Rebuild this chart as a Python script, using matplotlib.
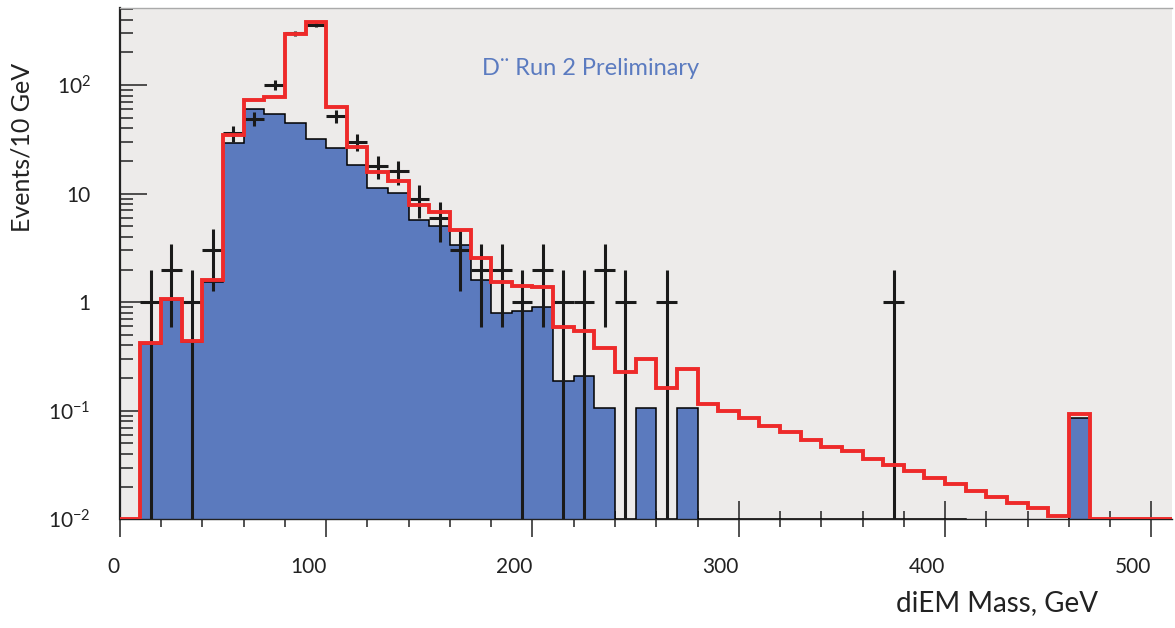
import numpy as np
import matplotlib.pyplot as plt
from matplotlib.ticker import MultipleLocator, LogLocator, FuncFormatter, NullFormatter

plt.rcParams['font.family'] = ['Lato', 'DejaVu Sans']
plt.rcParams['mathtext.fontset'] = 'custom'
plt.rcParams['mathtext.rm'] = 'Lato'
plt.rcParams['mathtext.default'] = 'regular'

# 10 GeV bins from 0 to 510 GeV
edges = np.arange(0, 520, 10)

# blue filled histogram (background)
bkg = [0, 0.41, 1.05, 0.43, 1.55, 29, 59.6, 54.7, 44.8, 32.2,
       26.1, 18.3, 11.2, 10.2, 5.7, 5.06, 3.36, 1.6, 0.80, 0.83,
       0.90, 0.19, 0.21, 0.105, 0, 0.105, 0, 0.105] + [0] * 18 + [0.085] + [0] * 4

# red line (total prediction)
total = [0, 0.42, 1.08, 0.44, 1.6, 34.6, 72.6, 77.8, 298, 382,
         63.1, 27.0, 15.9, 13.1, 7.83, 6.71, 4.61, 2.56, 1.54, 1.42,
         1.39, 0.586, 0.542, 0.378, 0.226, 0.297, 0.161, 0.242,
         0.115, 0.099, 0.0857, 0.0728, 0.064, 0.0537, 0.046, 0.0426, 0.0357,
         0.0318, 0.0277, 0.0239, 0.0211, 0.0183, 0.0161, 0.014, 0.0128, 0.0107,
         0.093] + [0] * 4

# observed events per bin
data = [0, 1, 2, 1, 3, 36, 49, 101, 300, 360,
        52, 30, 18, 16, 9, 6, 3, 2, 2, 1,
        2, 1, 1, 2, 1, 0, 1, 0] + [0] * 9 + [1] + [0] * 13

bkg_outline_end = 410   # GeV, where the background outline stops

ymin, ymax = 0.01, 518
c_blue = '#5B7ABE'
c_red = '#EE2A2A'
c_bg = '#EDEBEA'

bkg = np.array(bkg, float)
total = np.array(total, float)
data = np.array(data, float)
centers = 0.5 * (edges[:-1] + edges[1:])

fig = plt.figure(figsize=(11.75, 6.28), dpi=100)
ax = fig.add_axes([0.102, 0.173, 0.8955, 0.815])
ax.set_facecolor(c_bg)

# zero bins are drawn on the floor of the log axis
bkg_draw = np.where(bkg > 0, bkg, ymin)
tot_draw = np.where(total > 0, total, ymin)

ax.stairs(bkg_draw, edges, fill=True, baseline=ymin, color=c_blue, zorder=2)
n_out = int(bkg_outline_end / 10)
ax.stairs(bkg_draw[1:n_out], edges[1:n_out + 1], color='black', lw=1.1, zorder=3)
spike = np.argmax(np.where(edges[:-1] > bkg_outline_end, bkg, 0))
ax.stairs(bkg_draw[spike:spike + 1], edges[spike:spike + 2], color='black', lw=1.1, zorder=3)

sel = data > 0
ax.errorbar(centers[sel], data[sel], xerr=5, yerr=np.sqrt(data[sel]),
            fmt='none', ecolor='#1a1a1a', elinewidth=2.2, capsize=0, zorder=4)

ax.stairs(tot_draw, edges, color=c_red, lw=2.8, zorder=5)

ax.set_yscale('log')
ax.set_xlim(0, 510)
ax.set_ylim(ymin, ymax)

ax.xaxis.set_major_locator(MultipleLocator(100))
ax.xaxis.set_minor_locator(MultipleLocator(20))
ax.yaxis.set_major_locator(LogLocator(base=10, numticks=10))
ax.yaxis.set_minor_locator(LogLocator(base=10, subs=np.arange(2, 10), numticks=20))
ax.yaxis.set_minor_formatter(NullFormatter())


def ylab(v, pos):
    k = int(round(np.log10(v)))
    if k == 0:
        return '1'
    if k == 1:
        return '10'
    return '$10^{%d}$' % k


ax.yaxis.set_major_formatter(FuncFormatter(ylab))

ax.tick_params(axis='x', which='major', direction='inout', length=26, width=1.1,
               labelsize=15, pad=14, colors='#222222')
ax.tick_params(axis='x', which='minor', direction='inout', length=12, width=1.1, colors='#222222')
ax.tick_params(axis='y', which='major', direction='in', length=19.5, width=1.1,
               labelsize=15, pad=21, colors='#222222')
ax.tick_params(axis='y', which='minor', direction='in', length=9.5, width=1.1, colors='#222222')
for lab in ax.get_xticklabels():
    lab.set_ha('right')

ax.spines['left'].set_linewidth(1.6)
ax.spines['left'].set_color('#222222')
ax.spines['bottom'].set_linewidth(1.0)
ax.spines['bottom'].set_color('#222222')
ax.spines['top'].set_linewidth(1.0)
ax.spines['top'].set_color('#aaaaaa')
ax.spines['right'].set_visible(False)

ax.set_xlabel('diEM Mass, GeV', fontsize=20, loc='right', color='#222222')
ax.xaxis.set_label_coords(0.930, -0.138)
ax.set_ylabel('Events/10 GeV', fontsize=18, loc='top', color='#222222')
ax.yaxis.set_label_coords(-0.0825, 0.891)

ax.text(0.344, 0.868, 'D\u00a8 Run 2 Preliminary', transform=ax.transAxes,
        fontsize=17, color='#5B7BC0', ha='left', va='baseline')

fig.savefig('out.png', dpi=100)
